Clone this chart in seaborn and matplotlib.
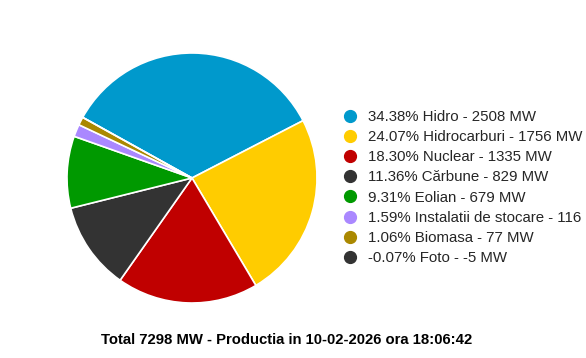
import matplotlib
matplotlib.use("Agg")
import matplotlib.pyplot as plt
from matplotlib.lines import Line2D
import seaborn as sns

# date productie
surse = ["Hidro", "Hidrocarburi", "Nuclear", "Cărbune", "Eolian",
         "Instalatii de stocare", "Biomasa", "Foto"]
mw = [2508, 1756, 1335, 829, 679, 116, 77, -5]
procente = [34.38, 24.07, 18.30, 11.36, 9.31, 1.59, 1.06, -0.07]
culori = ["#0099cc", "#ffcc00", "#c00000", "#333333", "#009900",
          "#aa88ff", "#aa8800", "#333333"]
total = 7298
titlu = "Total {} MW - Productia in 10-02-2026 ora 18:06:42".format(total)

sns.set_theme(style="white")
plt.rcParams["font.family"] = ["Liberation Sans", "DejaVu Sans"]

fig = plt.figure(figsize=(5.86, 3.58), dpi=100)
ax = fig.add_axes([67 / 586, 55 / 358, 250 / 586, 250 / 358])

# valorile negative nu apar in pie
valori = [max(v, 0) for v in mw]
ax.pie(valori, colors=culori, startangle=151, counterclock=False,
       wedgeprops=dict(edgecolor="white", linewidth=1.2))
ax.set_xlim(-1, 1)
ax.set_ylim(-1, 1)
ax.axis("off")

etichete = ["{:.2f}% {} - {} MW".format(p, s, v)
            for p, s, v in zip(procente, surse, mw)]
handles = [Line2D([], [], marker="o", linestyle="", markersize=8.5,
                  markerfacecolor=c, markeredgecolor=c) for c in culori]
fig.legend(handles, etichete, loc="upper left",
           bbox_to_anchor=(341 / 586, 1 - 110 / 358), frameon=False,
           fontsize=10.8, handletextpad=0.6, labelspacing=0.41,
           handlelength=1.2, borderpad=0, borderaxespad=0)

fig.text(287 / 586, 1 - 340 / 358, titlu, ha="center", va="center",
         fontsize=10.75, fontweight="bold", color="black")

fig.savefig("out.png", dpi=100)
